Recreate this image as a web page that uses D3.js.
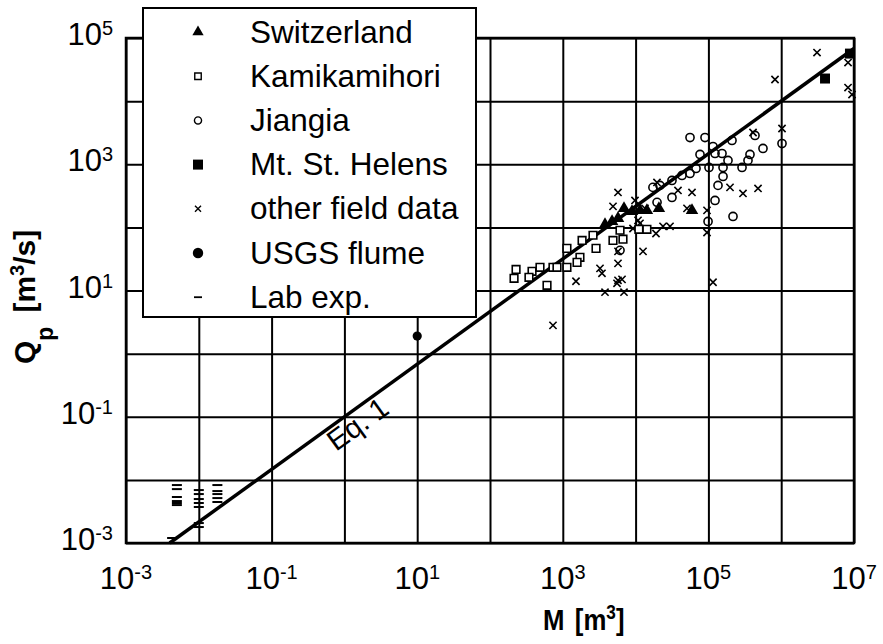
<!DOCTYPE html>
<html><head><meta charset="utf-8">
<script src="https://cdn.jsdelivr.net/npm/d3@7"></script>
<style>
body{margin:0;background:#fff;}
svg{display:block;}
text{font-family:"Liberation Sans",Arial,sans-serif;fill:#000;}
</style></head><body>
<svg id="c" width="883" height="644"></svg>
<script>
// ---------- data ----------
const xTickExps = [-3, -1, 1, 3, 5, 7];
const yTickExps = [-3, -1, 1, 3, 5];
const gridExpsX = [-3, -2, -1, 0, 1, 2, 3, 4, 5, 6, 7];
const gridExpsY = [-3, -2, -1, 0, 1, 2, 3, 4, 5];
const legendLabels = ["Switzerland", "Kamikamihori", "Jiangia", "Mt. St. Helens", "other field data", "USGS flume", "Lab exp."];

const switzerlandM = [3800, 4750, 5730, 6930, 8930, 11500, 14300, 20900, 59500];
const switzerlandQ = [111, 124, 139, 200, 179, 186, 186, 200, 186];

const kamikamihoriM = [228, 214, 378, 343, 486, 607, 733, 832, 1140, 1140, 1720, 1840, 1570, 2860, 2600, 4890, 6110, 6710, 11100, 14300];
const kamikamihoriQ = [21.6, 15.6, 20.1, 16.2, 23.3, 12.1, 23.3, 23.3, 23.3, 46.5, 33.5, 62, 27.9, 46.5, 75, 62, 90, 65, 93, 93];

const jiangiaM = [55900, 89800, 115700, 76700, 123300, 153800, 211000, 185900, 372600, 562300, 349900, 289700, 158900, 101900, 67600, 55900, 43400, 31600, 21600, 17300, 31600, 19700, 158900, 135500, 123300, 98900, 217800, 1026000, 436600, 6110];
const jiangiaQ = [2650, 2650, 1910, 1430, 1480, 1480, 2380, 1150, 1430, 1780, 1150, 890, 890, 890, 858, 715, 665, 554, 462, 430, 298, 249, 641, 462, 267, 124, 149, 2130, 2860, 43.3];

const stHelensM = [4.0e6, 8.8e6];
const stHelensQ = [22800, 56600];

const otherM = [3104000, 822200, 8279000, 8279000, 9389000, 1026000, 410200, 19660, 5730, 4893, 9811, 13460, 50810, 95700, 38210, 59520, 198100, 298600, 480300, 19050, 23790, 29700, 95700, 12640, 5730, 5730, 3243, 3452, 5730, 6507, 5554, 1517, 3799, 6928, 115700, 733, 10790, 9211, 11490];
const otherQ = [58750, 21980, 40830, 16410, 12710, 3681, 3186, 515, 358, 215, 267, 200, 200, 186, 385, 358, 430, 345, 414, 80, 104, 104, 83, 41.7, 41.7, 26.9, 22.4, 18.7, 14.5, 15.0, 13.0, 14.0, 9.4, 9.4, 13.5, 2.8, 129, 96, 116];

const usgsM = [10];
const usgsQ = [1.9];

const labM = [0.005, 0.005, 0.005, 0.005, 0.005, 0.005, 0.0043, 0.01, 0.01, 0.01, 0.01, 0.01, 0.01, 0.01, 0.018, 0.018, 0.018, 0.018, 0.018];
const labQ = [0.00828, 0.00714, 0.00535, 0.00462, 0.0043, 0.00399, 0.0012, 0.0069, 0.00596, 0.00497, 0.0043, 0.00372, 0.00207, 0.00179, 0.00828, 0.00665, 0.00596, 0.00515, 0.00446];

// Eq. 1 : Qp = 0.1 M^(5/6)
const eq1Coef = 0.1, eq1Exp = 5 / 6;
const eq1M = [0.00398, 1e7];

// ---------- layout ----------
const L = 126, R = 854, T = 38, B = 543;
const svg = d3.select("#c");
const x = d3.scaleLog().domain([1e-3, 1e7]).range([L, R]);
const y = d3.scaleLog().domain([1e-3, 1e5]).range([B, T]);

svg.append("defs").append("clipPath").attr("id", "clip")
  .append("rect").attr("x", L - 3).attr("y", T - 3).attr("width", R - L + 6).attr("height", B - T + 6);

// grid via axes
const gx = svg.append("g").attr("transform", `translate(0,${B})`)
  .call(d3.axisBottom(x).tickValues(gridExpsX.map(e => Math.pow(10, e))).tickSize(-(B - T)).tickFormat(""));
const gy = svg.append("g").attr("transform", `translate(${L},0)`)
  .call(d3.axisLeft(y).tickValues(gridExpsY.map(e => Math.pow(10, e))).tickSize(-(R - L)).tickFormat(""));
[gx, gy].forEach(g => {
  g.select(".domain").remove();
  g.selectAll("line").attr("stroke", "#000").attr("stroke-width", 2);
});
svg.append("rect").attr("x", L).attr("y", T).attr("width", R - L).attr("height", B - T)
  .attr("fill", "none").attr("stroke", "#000").attr("stroke-width", 2.5);

// Eq. 1 line
const plot = svg.append("g").attr("clip-path", "url(#clip)");
const lineGen = d3.line().x(d => x(d)).y(d => y(eq1Coef * Math.pow(d, eq1Exp)));
plot.append("path").datum(eq1M).attr("d", lineGen)
  .attr("fill", "none").attr("stroke", "#000").attr("stroke-width", 3.5);

const zip = (a, b) => a.map((v, i) => [v, b[i]]);
const sym = (type, size) => d3.symbol().type(type).size(size)();

// Lab exp dashes
plot.selectAll(".lab").data(zip(labM, labQ)).join("line")
  .attr("x1", d => x(d[0]) - 5).attr("x2", d => x(d[0]) + 5)
  .attr("y1", d => y(d[1])).attr("y2", d => y(d[1]))
  .attr("stroke", "#000").attr("stroke-width", 2);

// other field data (x)
const xPath = (s) => `M${-s},${-s}L${s},${s}M${-s},${s}L${s},${-s}`;
plot.selectAll(".oth").data(zip(otherM, otherQ)).join("path")
  .attr("transform", d => `translate(${x(d[0])},${y(d[1])})`)
  .attr("d", xPath(3.6)).attr("fill", "none").attr("stroke", "#000").attr("stroke-width", 1.6);

// Kamikamihori open squares
plot.selectAll(".kam").data(zip(kamikamihoriM, kamikamihoriQ)).join("path")
  .attr("transform", d => `translate(${x(d[0])},${y(d[1])})`)
  .attr("d", sym(d3.symbolSquare, 58)).attr("fill", "#fff").attr("stroke", "#000").attr("stroke-width", 1.6);

// Jiangia open circles
plot.selectAll(".jia").data(zip(jiangiaM, jiangiaQ)).join("path")
  .attr("transform", d => `translate(${x(d[0])},${y(d[1])})`)
  .attr("d", sym(d3.symbolCircle, 52)).attr("fill", "none").attr("stroke", "#000").attr("stroke-width", 1.6);

// Switzerland filled triangles
plot.selectAll(".swi").data(zip(switzerlandM, switzerlandQ)).join("path")
  .attr("transform", d => `translate(${x(d[0])},${y(d[1])})`)
  .attr("d", sym(d3.symbolTriangle, 68)).attr("fill", "#000");

// Mt. St. Helens filled squares
plot.selectAll(".msh").data(zip(stHelensM, stHelensQ)).join("path")
  .attr("transform", d => `translate(${x(d[0])},${y(d[1])})`)
  .attr("d", sym(d3.symbolSquare, 100)).attr("fill", "#000");

// USGS flume
plot.selectAll(".usgs").data(zip(usgsM, usgsQ)).join("circle")
  .attr("cx", d => x(d[0])).attr("cy", d => y(d[1])).attr("r", 4.6).attr("fill", "#000");

// Eq. 1 label
const p1 = [x(eq1M[0]), y(eq1Coef * Math.pow(eq1M[0], eq1Exp))];
const p2 = [x(eq1M[1]), y(eq1Coef * Math.pow(eq1M[1], eq1Exp))];
const ang = Math.atan2(p2[1] - p1[1], p2[0] - p1[0]) * 180 / Math.PI;
svg.append("text").attr("transform", `translate(336,452) rotate(${ang})`)
  .attr("font-size", 29).text("Eq. 1");

// Legend
const lg = svg.append("g");
lg.append("rect").attr("x", 143).attr("y", 8).attr("width", 333).attr("height", 309)
  .attr("fill", "#fff").attr("stroke", "#000").attr("stroke-width", 2);
const legSym = [
  g => g.append("path").attr("d", sym(d3.symbolTriangle, 55)).attr("fill", "#000"),
  g => g.append("path").attr("d", sym(d3.symbolSquare, 42)).attr("fill", "#fff").attr("stroke", "#000").attr("stroke-width", 1.4),
  g => g.append("path").attr("d", sym(d3.symbolCircle, 40)).attr("fill", "none").attr("stroke", "#000").attr("stroke-width", 1.4),
  g => g.append("path").attr("d", sym(d3.symbolSquare, 100)).attr("fill", "#000"),
  g => g.append("path").attr("d", xPath(3)).attr("fill", "none").attr("stroke", "#000").attr("stroke-width", 1.4),
  g => g.append("circle").attr("r", 5.2).attr("fill", "#000"),
  g => g.append("line").attr("x1", -4).attr("x2", 4).attr("stroke", "#000").attr("stroke-width", 1.8)
];
legendLabels.forEach((lab, i) => {
  const cy = 32 + i * 44.2;
  const g = lg.append("g").attr("transform", `translate(198,${cy})`);
  legSym[i](g);
  lg.append("text").attr("x", 250).attr("y", cy + 10.5).attr("font-size", 31.5).text(lab);
});

// Tick labels with superscripts
function powLabel(sel, e) {
  sel.append("tspan").text("10");
  sel.append("tspan").attr("font-size", 20).attr("dy", -10).text(String(e));
}
xTickExps.forEach(e => {
  const t = svg.append("text").attr("x", x(Math.pow(10, e))).attr("y", 589)
    .attr("text-anchor", "middle").attr("font-size", 31);
  powLabel(t, e);
});
yTickExps.forEach(e => {
  const t = svg.append("text").attr("x", 113).attr("y", y(Math.pow(10, e)) + 7)
    .attr("text-anchor", "end").attr("font-size", 31);
  powLabel(t, e);
});

// Axis titles
const xt = svg.append("text").attr("transform", "translate(543,630) scale(0.86,1)")
  .attr("font-size", 30).attr("font-weight", "bold");
xt.append("tspan").text("M");
xt.append("tspan").attr("dx", 12).text("[m");
xt.append("tspan").attr("font-size", 20).attr("dy", -11).text("3");
xt.append("tspan").attr("dy", 11).text("]");

const yt = svg.append("text").attr("transform", "translate(35,364) rotate(-90)")
  .attr("font-size", 30).attr("font-weight", "bold");
yt.append("tspan").text("Q");
yt.append("tspan").attr("font-size", 23).attr("dy", 18).text("p");
yt.append("tspan").attr("dy", -18).attr("dx", 14).text("[m");
yt.append("tspan").attr("font-size", 20).attr("dy", -11).text("3");
yt.append("tspan").attr("dy", 11).text("/s]");
</script>
</body></html>
